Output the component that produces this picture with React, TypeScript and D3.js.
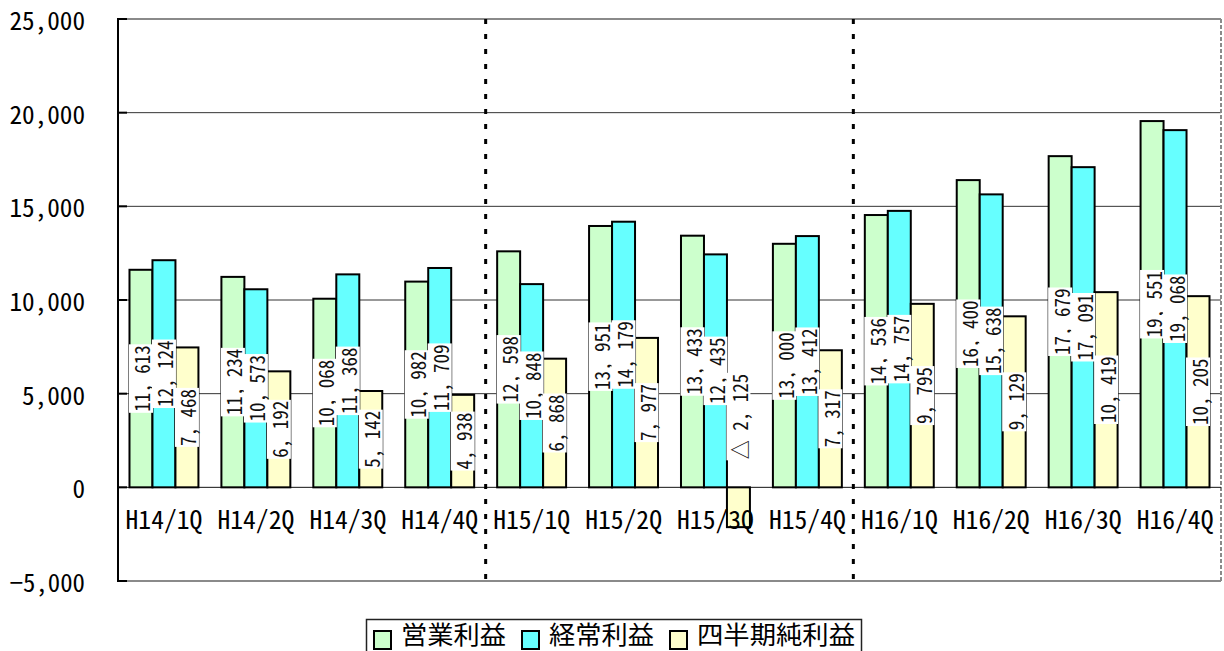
import React from "react";
import * as d3 from "d3";

// Quarterly profit figures (百万円)
const categories = [
  "H14/1Q", "H14/2Q", "H14/3Q", "H14/4Q",
  "H15/1Q", "H15/2Q", "H15/3Q", "H15/4Q",
  "H16/1Q", "H16/2Q", "H16/3Q", "H16/4Q",
];
const operatingProfit = [11613, 11234, 10068, 10982, 12598, 13951, 13433, 13000, 14536, 16400, 17679, 19551];
const ordinaryProfit = [12124, 10573, 11368, 11709, 10848, 14179, 12435, 13412, 14757, 15638, 17091, 19068];
const quarterlyNetIncome = [7468, 6192, 5142, 4938, 6868, 7977, -2125, 7317, 9795, 9129, 10419, 10205];

const seriesNames = ["営業利益", "経常利益", "四半期純利益"];
const seriesColors = ["#CCFFCC", "#66FFFF", "#FFFFCC"];
const seriesValues = [operatingProfit, ordinaryProfit, quarterlyNetIncome];

const yTicks = [-5000, 0, 5000, 10000, 15000, 20000, 25000];
// fiscal-year separators are drawn before these quarters
const yearStarts = ["H15/1Q", "H16/1Q"];

const W = 1224;
const H = 651;
const plot = { left: 118, right: 1221, top: 19, bottom: 581 };

const FONT = "'Noto Sans CJK JP', 'Liberation Sans', sans-serif";
const HW: React.CSSProperties = { fontFeatureSettings: '"hwid"' };

const fmtNum = d3.format(",");
const labelText = (v: number) =>
  (v < 0 ? "△ " : "") + fmtNum(Math.abs(v)).replace(",", ", ");

export default function App() {
  const x = d3
    .scaleBand<string>()
    .domain(categories)
    .range([plot.left, plot.right])
    .paddingInner(0.25)
    .paddingOuter(0.125);
  const xs = d3
    .scaleBand<number>()
    .domain(seriesNames.map((_, i) => i))
    .range([0, x.bandwidth()]);
  const y = d3.scaleLinear().domain([-5000, 25000]).range([plot.bottom, plot.top]);
  const gap = (x.step() - x.bandwidth()) / 2;

  const tickCharW = 12.6;
  const catCharW = 12.8;
  const lblCharW = 9.5;

  const bars = seriesValues.flatMap((vals, s) =>
    vals.map((v, i) => ({ s, i, v }))
  );

  // legend layout
  const legendCharW = 26.5;
  let lx = 374;
  const legendItems = seriesNames.map((name, s) => {
    const item = { name, s, x: lx };
    lx += 17 + 10 + name.length * legendCharW + 15;
    return item;
  });

  return (
    <svg
      width={W}
      height={H}
      style={{ position: "fixed", left: 0, top: 0, background: "#fff" }}
      fontFamily={FONT}
    >
      <rect x={0} y={0} width={W} height={H} fill="#fff" />

      {/* horizontal gridlines */}
      {yTicks
        .filter((t) => t > -5000 && t < 25000 && t !== 0)
        .map((t) => (
          <line key={t} x1={plot.left} x2={plot.right} y1={y(t)} y2={y(t)} stroke="#333" strokeWidth={1} />
        ))}
      {/* plot frame */}
      <line x1={plot.left} x2={plot.right} y1={y(25000)} y2={y(25000)} stroke="#8a8a8a" strokeWidth={2} />
      <line x1={plot.left} x2={plot.right} y1={y(-5000)} y2={y(-5000)} stroke="#8a8a8a" strokeWidth={2} />
      <line x1={plot.right} x2={plot.right} y1={plot.top} y2={plot.bottom} stroke="#8a8a8a" strokeWidth={2} strokeDasharray="4,2" />
      <line x1={plot.left} x2={plot.right} y1={y(0)} y2={y(0)} stroke="#111" strokeWidth={1} />

      {/* fiscal-year dividers */}
      {yearStarts.map((c) => {
        const xv = (x(c) as number) - gap;
        return (
          <line key={c} x1={xv} x2={xv} y1={plot.top} y2={plot.bottom} stroke="#000" strokeWidth={3} strokeDasharray="5,10" />
        );
      })}

      {/* bars */}
      {bars.map(({ s, i, v }) => {
        const bx = (x(categories[i]) as number) + (xs(s) as number);
        const y0 = y(Math.max(0, v));
        const y1 = y(Math.min(0, v));
        return (
          <rect
            key={`b${s}-${i}`}
            x={bx}
            y={y0}
            width={xs.bandwidth()}
            height={y1 - y0}
            fill={seriesColors[s]}
            stroke="#000"
            strokeWidth={2}
          />
        );
      })}

      {/* value labels */}
      {bars.map(({ s, i, v }) => {
        const cx = (x(categories[i]) as number) + (xs(s) as number) + xs.bandwidth() / 2;
        const txt = labelText(v);
        const len = txt.replace("△", "△△").length * lblCharW;
        const cy = v >= 0 ? (y(v) + y(0)) / 2 : y(0) - 28 - len / 2;
        return (
          <g key={`l${s}-${i}`} transform={`translate(${cx},${cy}) rotate(-90)`}>
            <rect x={-len / 2 - 1} y={-12} width={len + 2} height={24} fill="#fff" />
            <text
              x={-len / 2}
              y={0.5}
              dominantBaseline="central"
              fontSize={21}
              textLength={len}
              lengthAdjust="spacingAndGlyphs"
              fill="#111"
              style={HW}
            >
              {txt}
            </text>
          </g>
        );
      })}

      {/* category labels */}
      {categories.map((c) => {
        const cx = (x(c) as number) + x.bandwidth() / 2;
        const len = c.length * catCharW;
        return (
          <text
            key={c}
            x={cx - len / 2}
            y={529}
            fontSize={25}
            textLength={len}
            lengthAdjust="spacingAndGlyphs"
            fill="#000"
            style={HW}
          >
            {c}
          </text>
        );
      })}

      {/* value axis */}
      <line x1={plot.left} x2={plot.left} y1={plot.top - 1} y2={plot.bottom + 1} stroke="#000" strokeWidth={2} />
      {yTicks.map((t) => {
        const s = fmtNum(t);
        const len = s.length * tickCharW;
        return (
          <g key={t}>
            <line x1={plot.left} x2={plot.left + 9} y1={y(t)} y2={y(t)} stroke="#000" strokeWidth={2} />
            <text
              x={85 - len}
              y={y(t)}
              dominantBaseline="central"
              fontSize={25}
              textLength={len}
              lengthAdjust="spacingAndGlyphs"
              fill="#000"
              style={HW}
            >
              {s}
            </text>
          </g>
        );
      })}

      {/* legend */}
      <rect x={366.5} y={619.5} width={495} height={40} fill="#fff" stroke="#222" strokeWidth={1.5} />
      {legendItems.map((it) => (
        <g key={it.name}>
          <rect x={it.x} y={631} width={17} height={18} fill={seriesColors[it.s]} stroke="#000" strokeWidth={2} />
          <text
            x={it.x + 27}
            y={643.5}
            fontSize={25}
            textLength={it.name.length * legendCharW - 1}
            lengthAdjust="spacingAndGlyphs"
            fill="#000"
          >
            {it.name}
          </text>
        </g>
      ))}
    </svg>
  );
}
